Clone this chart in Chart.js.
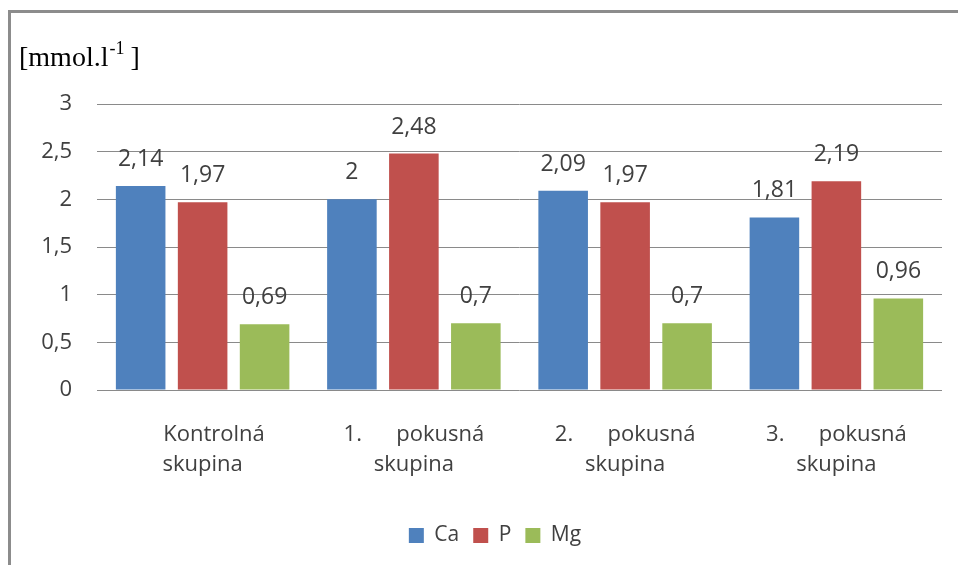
<!DOCTYPE html>
<html>
<head>
<meta charset="utf-8">
<script src="https://cdn.jsdelivr.net/npm/chart.js@4/dist/chart.umd.min.js"></script>
<style>
html,body{margin:0;padding:0;background:#fff;}
#wrap{position:relative;width:958px;height:565px;}
</style>
</head>
<body>
<div id="wrap"><canvas id="c" width="958" height="565"></canvas></div>
<script>
const categories = [["    Kontrolná", "skupina"], ["1.      pokusná", "skupina"], ["2.      pokusná", "skupina"], ["3.      pokusná", "skupina"]];
const seriesNames = ["Ca", "P", "Mg"];
const caValues = [2.14, 2.00, 2.09, 1.81];
const pValues = [1.97, 2.48, 1.97, 2.19];
const mgValues = [0.69, 0.70, 0.70, 0.96];
const yTicks = [0, 0.5, 1, 1.5, 2, 2.5, 3];
const unitText = "[mmol.l";
const unitSup = "-1";
const unitClose = "]";

const colors = ["#4F81BD", "#C0504D", "#9BBB59"];
const textColor = "#404040";
const fontFam = "'Open Sans', sans-serif";

function fmt(v){ return String(v).replace('.', ','); }

const borderPlugin = {
  id: 'frame',
  afterLayout(chart){
    if (chart.legend) { chart.legend.left += 19; chart.legend.right += 19; }
  },
  beforeDraw(chart){
    const ctx = chart.ctx;
    ctx.save();
    ctx.fillStyle = '#fff';
    ctx.fillRect(0,0,chart.width,chart.height);
    ctx.strokeStyle = '#8c8c8c';
    ctx.lineWidth = 3;
    ctx.beginPath();
    ctx.moveTo(9.5, chart.height);
    ctx.lineTo(9.5, 11.5);
    ctx.lineTo(chart.width, 11.5);
    ctx.stroke();
    // unit label
    ctx.fillStyle = '#000';
    ctx.textBaseline = 'alphabetic';
    ctx.font = "28px 'Liberation Serif', serif";
    let x = 19, y = 66;
    ctx.fillText(unitText, x, y);
    x += ctx.measureText(unitText).width;
    ctx.font = "18px 'Liberation Serif', serif";
    ctx.fillText(unitSup, x + 1, y - 12);
    x += ctx.measureText(unitSup).width + 7;
    ctx.font = "28px 'Liberation Serif', serif";
    ctx.fillText(unitClose, x, y);
    ctx.restore();
  }
};

const valueLabels = {
  id: 'valueLabels',
  afterDatasetsDraw(chart){
    const ctx = chart.ctx;
    ctx.save();
    ctx.font = "23px " + fontFam;
    ctx.fillStyle = textColor;
    ctx.textAlign = 'center';
    ctx.textBaseline = 'alphabetic';
    chart.data.datasets.forEach((ds, i) => {
      const meta = chart.getDatasetMeta(i);
      meta.data.forEach((el, j) => {
        ctx.fillText(fmt(ds.data[j]), el.x, el.y - 20);
      });
    });
    ctx.restore();
  }
};

new Chart(document.getElementById('c'), {
  type: 'bar',
  data: {
    labels: categories,
    datasets: [
      {label: seriesNames[0], data: caValues, backgroundColor: colors[0]},
      {label: seriesNames[1], data: pValues, backgroundColor: colors[1]},
      {label: seriesNames[2], data: mgValues, backgroundColor: colors[2]}
    ]
  },
  options: {
    responsive: false,
    animation: false,
    devicePixelRatio: 1,
    layout: {padding: {left: 10, right: 16, top: 104, bottom: 9}},
    datasets: {bar: {barPercentage: 0.8, categoryPercentage: 0.88}},
    scales: {
      x: {
        grid: {display: false},
        border: {display: false},
        ticks: {color: textColor, font: {family: fontFam, size: 22, lineHeight: 1.36}, padding: 22, maxRotation: 0, autoSkip: false},
        afterFit(s){ s.height = 121; }
      },
      y: {
        min: 0, max: 3,
        afterBuildTicks(s){ s.ticks = yTicks.map(v => ({value: v})); },
        grid: {color: '#8a8a8a', lineWidth: 1, drawTicks: false},
        border: {display: false},
        ticks: {color: textColor, font: {family: fontFam, size: 22}, padding: 25, callback: v => fmt(v)},
        afterFit(s){ s.width = 87; }
      }
    },
    plugins: {
      legend: {
        position: 'bottom',
        labels: {color: textColor, font: {family: fontFam, size: 21}, boxWidth: 15, boxHeight: 15, padding: 14}
      },
      tooltip: {enabled: false}
    }
  },
  plugins: [borderPlugin, valueLabels]
});
</script>
</body>
</html>
